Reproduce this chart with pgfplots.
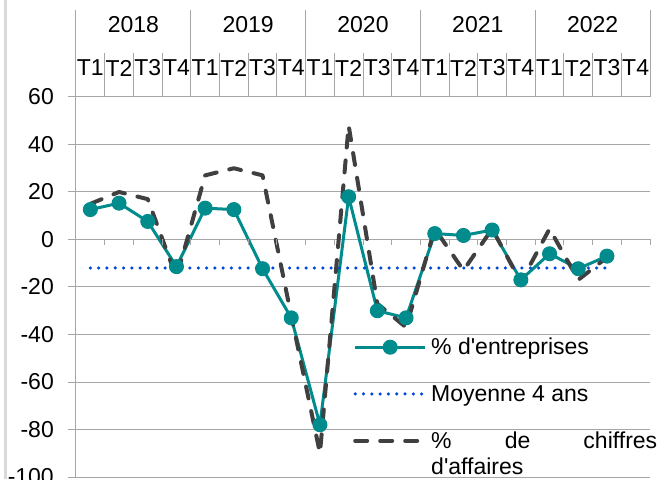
\documentclass[border=0pt]{standalone}
\usepackage{pgfplots}
\pgfplotsset{compat=1.18}
\usepackage{fontspec}
\setmainfont{Liberation Sans}[Ligatures=TeXOff]
\definecolor{teal1}{RGB}{0,139,141}
\definecolor{dgrey}{RGB}{64,64,64}
\definecolor{dblue}{RGB}{0,72,220}
\definecolor{gridc}{RGB}{166,166,166}
\definecolor{borderc}{RGB}{217,217,217}

\pgfplotstableread{
x ent ca
0 12.6 15
1 15.3 20
2 7.6 17
3 -11.4 -16
4 13.2 27
5 12.6 30
6 -12.3 27
7 -33 -32
8 -78 -90
9 18 48
10 -30 -27
11 -33 -37
12 2.5 4.5
13 1.7 -13
14 4 4.5
15 -17 -18
16 -6 4.5
17 -12.3 -17
18 -7 -7.5
}\data

\begin{document}
\begin{tikzpicture}[font=\fontsize{23}{27}\selectfont]
\begin{axis}[
 name=main,
 scale only axis, width=574pt, height=380pt,
 xmin=-0.5, xmax=19.5, ymin=-100, ymax=60,
 axis x line=none,
 axis y line*=left,
 axis line style={gridc, line width=1pt},
 ytick={-100,-80,...,60},
 yticklabels={-100,-80,-60,-40,-20,0,20,40,60},
 ymajorgrids, grid style={gridc, line width=1pt},
 major tick length=8pt, tick align=outside, tick style={gridc, line width=1pt},
 yticklabel style={anchor=east, inner sep=0pt, xshift=-14pt, text=black},
 clip=false,
 legend cell align=left,
 legend style={draw=none, fill=none, inner sep=0pt, row sep=29pt,
   nodes={inner sep=0pt, text=black},
   /tikz/every odd column/.append style={column sep=4pt},
   at={(0.4826,0.366)}, anchor=north west},
 legend image code/.code={\draw[mark repeat=2,mark phase=2,#1] plot coordinates {(0pt,0pt)(35pt,0pt)(70pt,0pt)};},
]
\addplot[teal1, line width=3pt, mark=*, mark size=7pt, mark options={solid, fill=teal1, draw=teal1, line width=1pt}] table[x=x, y=ent] {\data};
\addlegendentry{\% d'entreprises}
\addplot[dblue, line width=3.5pt, dash pattern=on 0pt off 8.3pt, line cap=round] coordinates {(0,-12) (18,-12)};
\addlegendentry{Moyenne 4 ans}
\addplot[dgrey, line width=4pt, dash pattern=on 12pt off 13pt, line cap=round, line join=round] table[x=x, y=ca] {\data};
\addlegendentry{\rlap{\raisebox{-26pt}[0pt][0pt]{d'affaires}}\makebox[226pt][s]{\% de chiffres}}

% table at top
\pgfplotsinvokeforeach{-0.5,3.5,7.5,11.5,15.5,19.5}{
  \draw[gridc, line width=1pt] (axis cs:#1,60) -- ++(0pt,87pt);
}
\pgfplotsinvokeforeach{0.5,1.5,2.5,4.5,5.5,6.5,8.5,9.5,10.5,12.5,13.5,14.5,16.5,17.5,18.5}{
  \draw[gridc, line width=1pt] (axis cs:#1,60) -- ++(0pt,44pt);
}
\pgfplotsinvokeforeach{0.5,1.5,2.5,3.5,4.5,5.5,6.5,7.5,8.5,9.5,10.5,11.5,12.5,13.5,14.5,15.5,16.5,17.5,18.5,19.5}{
  \draw[gridc, line width=1pt] (axis cs:#1,0) -- ++(0pt,-6pt);
}
\node at ([yshift=72pt]axis cs:1.5,60) {2018};
\node at ([yshift=72pt]axis cs:5.5,60) {2019};
\node at ([yshift=72pt]axis cs:9.5,60) {2020};
\node at ([yshift=72pt]axis cs:13.5,60) {2021};
\node at ([yshift=72pt]axis cs:17.5,60) {2022};
\node[inner sep=0pt] at ([yshift=29pt]axis cs:0,60) {T1};
\node[inner sep=0pt] at ([yshift=29pt]axis cs:1,60) {T2};
\node[inner sep=0pt] at ([yshift=29pt]axis cs:2,60) {T3};
\node[inner sep=0pt] at ([yshift=29pt]axis cs:3,60) {T4};
\node[inner sep=0pt] at ([yshift=29pt]axis cs:4,60) {T1};
\node[inner sep=0pt] at ([yshift=29pt]axis cs:5,60) {T2};
\node[inner sep=0pt] at ([yshift=29pt]axis cs:6,60) {T3};
\node[inner sep=0pt] at ([yshift=29pt]axis cs:7,60) {T4};
\node[inner sep=0pt] at ([yshift=29pt]axis cs:8,60) {T1};
\node[inner sep=0pt] at ([yshift=29pt]axis cs:9,60) {T2};
\node[inner sep=0pt] at ([yshift=29pt]axis cs:10,60) {T3};
\node[inner sep=0pt] at ([yshift=29pt]axis cs:11,60) {T4};
\node[inner sep=0pt] at ([yshift=29pt]axis cs:12,60) {T1};
\node[inner sep=0pt] at ([yshift=29pt]axis cs:13,60) {T2};
\node[inner sep=0pt] at ([yshift=29pt]axis cs:14,60) {T3};
\node[inner sep=0pt] at ([yshift=29pt]axis cs:15,60) {T4};
\node[inner sep=0pt] at ([yshift=29pt]axis cs:16,60) {T1};
\node[inner sep=0pt] at ([yshift=29pt]axis cs:17,60) {T2};
\node[inner sep=0pt] at ([yshift=29pt]axis cs:18,60) {T3};
\node[inner sep=0pt] at ([yshift=29pt]axis cs:19,60) {T4};
\end{axis}
\draw[borderc, line width=3pt] ([xshift=-70pt,yshift=-2pt]main.south west) -- ([xshift=-70pt,yshift=97pt]main.north west);
\pgfresetboundingbox
\path[use as bounding box] ([xshift=-76pt,yshift=-2pt]main.south west) rectangle ([xshift=10pt,yshift=97pt]main.north east);
\end{tikzpicture}
\end{document}
